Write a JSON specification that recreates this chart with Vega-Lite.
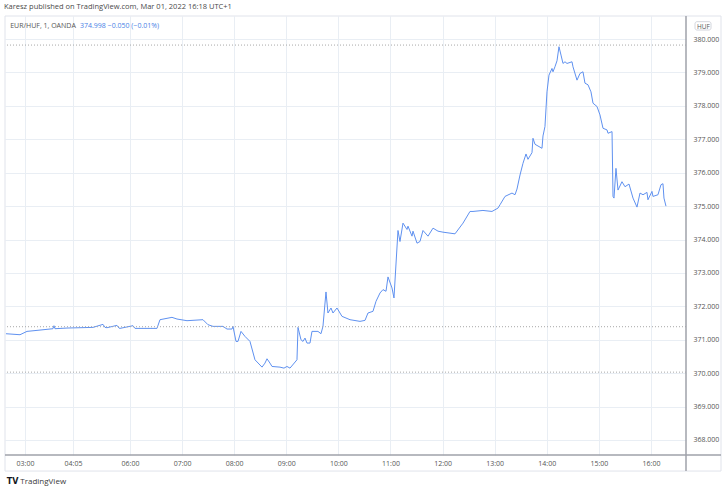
{
  "$schema": "https://vega.github.io/schema/vega-lite/v6.json",
  "width": 681,
  "height": 439,
  "autosize": {"type": "none"},
  "padding": {"left": 5, "top": 16, "right": 41, "bottom": 38},
  "background": "#ffffff",
  "config": {
    "view": {"stroke": null},
    "font": "Open Sans",
    "title": {"font": "Open Sans", "fontSize": 7.5, "fontWeight": "normal", "color": "#4a4a4a", "anchor": "start", "offset": 5},
    "axisX": {"tickCount": 13, "labelOverlap": false},
    "axisY": {"tickCount": 13, "labelOverlap": false}
  },
  "title": {"text": "Karesz published on TradingView.com, Mar 01, 2022 16:18 UTC+1"},
  "datasets": {
    "eurhuf": [
      {"t": 3.620, "p": 371.18}, {"t": 3.889, "p": 371.15}, {"t": 4.023, "p": 371.25}, {"t": 4.215, "p": 371.28},
      {"t": 4.522, "p": 371.33}, {"t": 4.541, "p": 371.42}, {"t": 4.560, "p": 371.33}, {"t": 4.791, "p": 371.35},
      {"t": 5.290, "p": 371.37}, {"t": 5.482, "p": 371.46}, {"t": 5.520, "p": 371.37}, {"t": 5.559, "p": 371.36},
      {"t": 5.750, "p": 371.43}, {"t": 5.789, "p": 371.35}, {"t": 5.808, "p": 371.34}, {"t": 6.058, "p": 371.42},
      {"t": 6.096, "p": 371.34}, {"t": 6.518, "p": 371.34}, {"t": 6.576, "p": 371.60}, {"t": 6.806, "p": 371.67},
      {"t": 6.902, "p": 371.62}, {"t": 7.094, "p": 371.57}, {"t": 7.401, "p": 371.60}, {"t": 7.497, "p": 371.45},
      {"t": 7.593, "p": 371.40}, {"t": 7.785, "p": 371.40}, {"t": 7.862, "p": 371.32}, {"t": 7.958, "p": 371.32},
      {"t": 7.977, "p": 371.40}, {"t": 8.035, "p": 370.95}, {"t": 8.073, "p": 370.95}, {"t": 8.131, "p": 371.25},
      {"t": 8.207, "p": 371.10}, {"t": 8.303, "p": 370.95}, {"t": 8.399, "p": 370.40}, {"t": 8.534, "p": 370.18},
      {"t": 8.591, "p": 370.30}, {"t": 8.630, "p": 370.43}, {"t": 8.687, "p": 370.30}, {"t": 8.726, "p": 370.20},
      {"t": 8.879, "p": 370.18}, {"t": 8.956, "p": 370.15}, {"t": 9.013, "p": 370.20}, {"t": 9.071, "p": 370.15},
      {"t": 9.205, "p": 370.40}, {"t": 9.225, "p": 371.37}, {"t": 9.282, "p": 371.00}, {"t": 9.321, "p": 370.95},
      {"t": 9.359, "p": 371.05}, {"t": 9.397, "p": 370.90}, {"t": 9.455, "p": 370.90}, {"t": 9.493, "p": 371.25},
      {"t": 9.608, "p": 371.25}, {"t": 9.666, "p": 371.18}, {"t": 9.704, "p": 371.40}, {"t": 9.762, "p": 372.43},
      {"t": 9.800, "p": 371.80}, {"t": 9.858, "p": 371.95}, {"t": 9.896, "p": 371.80}, {"t": 9.973, "p": 371.95},
      {"t": 10.069, "p": 371.70}, {"t": 10.223, "p": 371.60}, {"t": 10.415, "p": 371.55}, {"t": 10.511, "p": 371.58},
      {"t": 10.568, "p": 371.80}, {"t": 10.664, "p": 371.85}, {"t": 10.722, "p": 372.15}, {"t": 10.799, "p": 372.40},
      {"t": 10.856, "p": 372.50}, {"t": 10.914, "p": 372.45}, {"t": 10.952, "p": 372.88}, {"t": 11.029, "p": 372.55},
      {"t": 11.067, "p": 372.25}, {"t": 11.144, "p": 374.27}, {"t": 11.182, "p": 373.94}, {"t": 11.240, "p": 374.49},
      {"t": 11.317, "p": 374.30}, {"t": 11.336, "p": 374.40}, {"t": 11.413, "p": 374.10}, {"t": 11.432, "p": 374.25},
      {"t": 11.509, "p": 373.89}, {"t": 11.566, "p": 373.94}, {"t": 11.624, "p": 374.27}, {"t": 11.720, "p": 374.10},
      {"t": 11.816, "p": 374.34}, {"t": 11.912, "p": 374.25}, {"t": 12.008, "p": 374.22}, {"t": 12.238, "p": 374.17},
      {"t": 12.392, "p": 374.49}, {"t": 12.526, "p": 374.84}, {"t": 12.584, "p": 374.84}, {"t": 12.775, "p": 374.87},
      {"t": 12.948, "p": 374.84}, {"t": 13.063, "p": 374.94}, {"t": 13.102, "p": 375.04}, {"t": 13.198, "p": 375.29},
      {"t": 13.332, "p": 375.39}, {"t": 13.390, "p": 375.34}, {"t": 13.428, "p": 375.51}, {"t": 13.486, "p": 375.93},
      {"t": 13.543, "p": 376.28}, {"t": 13.601, "p": 376.56}, {"t": 13.639, "p": 376.40}, {"t": 13.716, "p": 376.60},
      {"t": 13.735, "p": 377.03}, {"t": 13.774, "p": 376.85}, {"t": 13.908, "p": 376.73}, {"t": 13.927, "p": 377.10},
      {"t": 13.965, "p": 377.38}, {"t": 14.004, "p": 378.42}, {"t": 14.042, "p": 378.92}, {"t": 14.100, "p": 379.12},
      {"t": 14.119, "p": 379.02}, {"t": 14.157, "p": 379.17}, {"t": 14.196, "p": 379.35}, {"t": 14.234, "p": 379.77},
      {"t": 14.273, "p": 379.52}, {"t": 14.311, "p": 379.27}, {"t": 14.349, "p": 379.32}, {"t": 14.388, "p": 379.27},
      {"t": 14.484, "p": 379.32}, {"t": 14.503, "p": 379.17}, {"t": 14.580, "p": 378.77}, {"t": 14.637, "p": 378.97},
      {"t": 14.695, "p": 379.02}, {"t": 14.733, "p": 378.68}, {"t": 14.791, "p": 378.63}, {"t": 14.848, "p": 378.42},
      {"t": 14.887, "p": 378.08}, {"t": 14.964, "p": 377.98}, {"t": 15.021, "p": 377.73}, {"t": 15.079, "p": 377.33},
      {"t": 15.156, "p": 377.28}, {"t": 15.175, "p": 377.18}, {"t": 15.252, "p": 377.23}, {"t": 15.271, "p": 375.29},
      {"t": 15.290, "p": 375.24}, {"t": 15.328, "p": 376.13}, {"t": 15.367, "p": 375.48}, {"t": 15.443, "p": 375.73},
      {"t": 15.501, "p": 375.58}, {"t": 15.578, "p": 375.66}, {"t": 15.655, "p": 375.24}, {"t": 15.731, "p": 374.97},
      {"t": 15.789, "p": 375.39}, {"t": 15.847, "p": 375.34}, {"t": 15.923, "p": 375.41}, {"t": 15.942, "p": 375.19},
      {"t": 16.019, "p": 375.44}, {"t": 16.038, "p": 375.29}, {"t": 16.134, "p": 375.34}, {"t": 16.192, "p": 375.64},
      {"t": 16.230, "p": 375.67}, {"t": 16.249, "p": 375.24}, {"t": 16.288, "p": 374.998}
    ],
    "levels": [{"level": 379.82}, {"level": 371.39}, {"level": 370.03}],
    "one": [{}]
  },
  "layer": [
    {
      "data": {"name": "eurhuf"},
      "mark": {"type": "line", "color": "#5f91f0", "strokeWidth": 1, "interpolate": "linear"},
      "encoding": {
        "x": {
          "field": "t", "type": "quantitative",
          "scale": {"domain": [3.601, 16.672], "nice": false, "zero": false},
          "axis": {
            "orient": "bottom", "title": null, "domain": false, "ticks": false,
            "values": [3.985, 4.906, 6, 7, 8, 9, 10, 11, 12, 13, 14, 15, 16],
            "labelExpr": "datum.value < 4.5 ? '03:00' : (datum.value < 5.5 ? '04:05' : ((datum.value < 10 ? '0' : '') + round(datum.value) + ':00'))",
            "labelFont": "Open Sans", "labelFontSize": 7, "labelColor": "#555555", "labelPadding": 4, "labelOverlap": false,
            "grid": true, "gridColor": "#e9eef4", "gridWidth": 1
          }
        },
        "y": {
          "field": "p", "type": "quantitative",
          "scale": {"domain": [367.55, 380.69], "nice": false, "zero": false},
          "axis": {
            "orient": "right", "title": "HUF", "titleAngle": 0, "titleFontSize": 6.5, "titleFontWeight": "normal",
            "titleColor": "#555555", "titleAnchor": "end", "titleAlign": "center", "titleBaseline": "middle", "titleX": 17, "titleY": 10,
            "domain": false, "ticks": false, "tickCount": 13,
            "values": [368, 369, 370, 371, 372, 373, 374, 375, 376, 377, 378, 379, 380],
            "format": ".3f", "labelFont": "Open Sans", "labelFontSize": 7, "labelColor": "#555555", "labelPadding": 7, "labelAlign": "left", "labelOverlap": false,
            "grid": true, "gridColor": "#e9eef4", "gridWidth": 1
          }
        }
      }
    },
    {
      "data": {"name": "levels"},
      "mark": {"type": "rule", "color": "#a8a8a8", "strokeWidth": 1, "strokeDash": [1, 2]},
      "encoding": {"y": {"field": "level", "type": "quantitative"}}
    },
    {
      "data": {"name": "one"},
      "mark": {"type": "rect", "fill": null, "stroke": "#e0e3eb", "strokeWidth": 1, "clip": false},
      "encoding": {
        "x": {"datum": 3.601, "type": "quantitative"},
        "x2": {"datum": 17.344},
        "y": {"datum": 380.69, "type": "quantitative"},
        "y2": {"datum": 367.07}
      }
    },
    {
      "data": {"name": "one"},
      "mark": {"type": "rect", "fill": null, "stroke": "#c9ccd4", "strokeWidth": 0.8, "cornerRadius": 2, "clip": false},
      "encoding": {
        "x": {"datum": 16.845, "type": "quantitative"},
        "x2": {"datum": 17.152},
        "y": {"datum": 380.52, "type": "quantitative"},
        "y2": {"datum": 380.27}
      }
    },
    {
      "data": {"name": "one"},
      "mark": {"type": "rule", "color": "#9fa2aa", "strokeWidth": 1.5, "clip": false},
      "encoding": {
        "x": {"datum": 16.672, "type": "quantitative"},
        "y": {"datum": 380.69, "type": "quantitative"},
        "y2": {"datum": 367.07}
      }
    },
    {
      "data": {"name": "one"},
      "mark": {"type": "rule", "color": "#9fa2aa", "strokeWidth": 1.5, "clip": false},
      "encoding": {
        "y": {"datum": 367.55, "type": "quantitative"},
        "x": {"datum": 3.601, "type": "quantitative"},
        "x2": {"datum": 17.344}
      }
    },
    {
      "data": {"name": "one"},
      "mark": {"type": "text", "align": "left", "baseline": "middle", "fontSize": 7, "color": "#555555", "font": "Open Sans"},
      "encoding": {
        "x": {"datum": 3.70, "type": "quantitative"},
        "y": {"datum": 380.39, "type": "quantitative"},
        "text": {"value": "EUR/HUF, 1, OANDA"}
      }
    },
    {
      "data": {"name": "one"},
      "mark": {"type": "text", "align": "left", "baseline": "middle", "fontSize": 7, "color": "#4a7fe6", "font": "Open Sans"},
      "encoding": {
        "x": {"datum": 5.04, "type": "quantitative"},
        "y": {"datum": 380.39, "type": "quantitative"},
        "text": {"value": "374.998  −0.050 (−0.01%)"}
      }
    },
    {
      "data": {"name": "one"},
      "mark": {"type": "text", "align": "left", "baseline": "middle", "fontSize": 8, "fontWeight": "bold", "color": "#131722", "font": "DejaVu Sans", "clip": false},
      "encoding": {
        "x": {"datum": 3.635, "type": "quantitative"},
        "y": {"datum": 366.75, "type": "quantitative"},
        "text": {"value": "TV"}
      }
    },
    {
      "data": {"name": "one"},
      "mark": {"type": "text", "align": "left", "baseline": "middle", "fontSize": 8, "color": "#3a3a3a", "font": "Open Sans", "clip": false},
      "encoding": {
        "x": {"datum": 3.895, "type": "quantitative"},
        "y": {"datum": 366.75, "type": "quantitative"},
        "text": {"value": "TradingView"}
      }
    }
  ]
}
